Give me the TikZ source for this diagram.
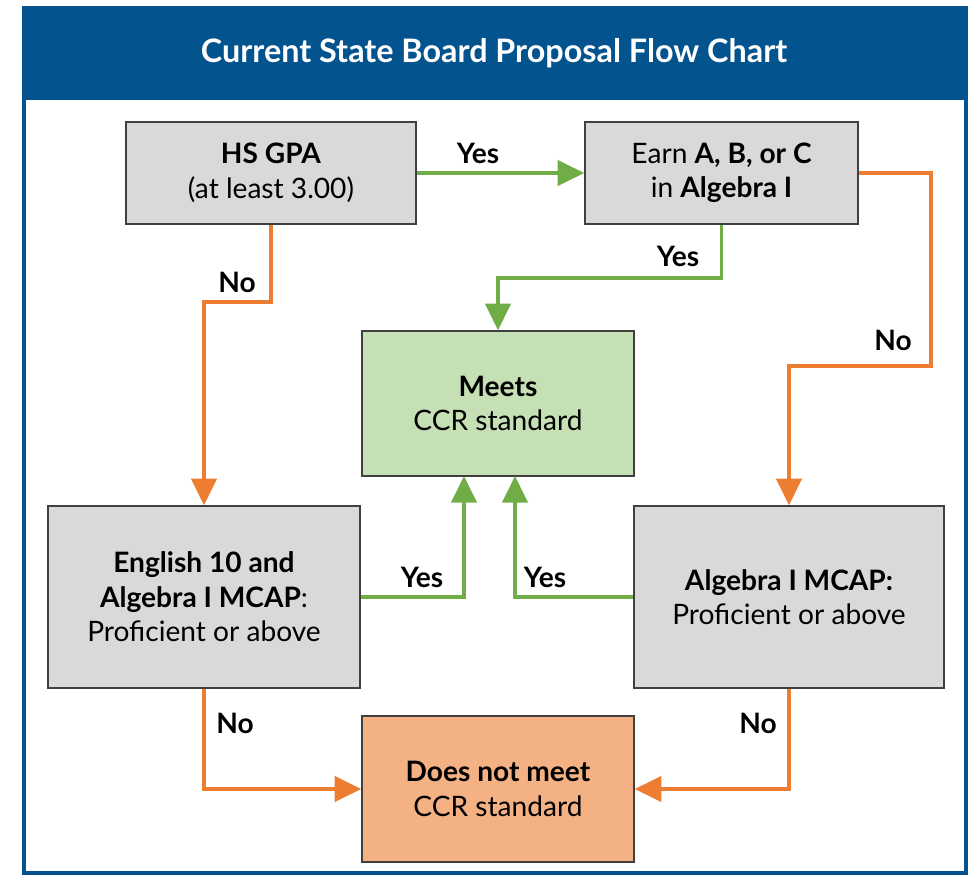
\documentclass[tikz,border=0pt]{standalone}
\usepackage{fontspec}
\setmainfont{Lato}
\usepackage{tikz}
\usetikzlibrary{arrows.meta}

\definecolor{frameblue}{RGB}{3,83,143}
\definecolor{boxgray}{HTML}{D9D9D9}
\definecolor{boxline}{HTML}{404040}
\definecolor{meetgreen}{HTML}{C5E0B4}
\definecolor{failorange}{HTML}{F4B183}
\definecolor{yesgreen}{HTML}{70AD47}
\definecolor{noorange}{HTML}{ED7D31}

\newcommand\bodysize{\fontsize{20}{24.5}\selectfont}
\newcommand\titlesize{\fontsize{23}{27}\selectfont}

\begin{document}
\begin{tikzpicture}[x=0.025cm, y=-0.025cm, inner sep=0pt,
    box/.style={rectangle, draw=boxline, line width=1pt, fill=boxgray, align=center, font=\bodysize},
    yes/.style={draw=yesgreen, line width=2.4pt, -{Triangle[length=19pt,width=18pt]}},
    no/.style={draw=noorange, line width=2.4pt, -{Triangle[length=19pt,width=18pt]}},
    lbl/.style={font=\bodysize\bfseries}]

\useasboundingbox (0,0) rectangle (975,880);

% frame and title band
\fill [frameblue] (22,6) rectangle (968,100);
\draw [frameblue, line width=3pt] (24,8) rectangle (966,873);
\node [text=white, font=\titlesize\bfseries] (title) at (494,53) {Current State Board Proposal Flow Chart};

% boxes
\node [box, minimum width=7.25cm, minimum height=2.55cm] (gpa) at (271,173) {\textbf{HS GPA}\\(at least 3.00)};
\node [box, minimum width=6.825cm, minimum height=2.55cm] (earn) at (721.5,173) {Earn \textbf{A, B, or C}\\in \textbf{Algebra I}};
\node [box, fill=meetgreen, minimum width=6.8cm, minimum height=3.625cm] (meets) at (498,403.5) {\textbf{Meets}\\CCR standard};
\node [box, minimum width=7.8cm, minimum height=4.55cm] (eng) at (204,597) {\textbf{English 10 and}\\\textbf{Algebra I MCAP}:\\Proficient or above};
\node [box, minimum width=7.75cm, minimum height=4.55cm] (alg) at (789,597) {\textbf{Algebra I MCAP:}\\Proficient or above};
\node [box, fill=failorange, minimum width=6.8cm, minimum height=3.65cm] (dnm) at (498,789) {\textbf{Does not meet}\\CCR standard};

% bend points
\coordinate (yb) at (600,278);
\coordinate (nb) at (931,366);
\coordinate (gb) at (271,302);
\coordinate (ein) at (464,476);
\coordinate (ain) at (515,476);

% connectors
\draw [yes] (gpa.east) -- (earn.west);
\draw [yes] (earn.south) |- (yb) -| (meets.north);
\draw [no] (earn.east) -| (nb) -| (alg.north);
\draw [no] (gpa.south) -- (gb) -| (eng.north);
\draw [yes] (eng.east) -| (ein);
\draw [yes] (alg.west) -| (ain);
\draw [no] (eng.south) |- (dnm.west);
\draw [no] (alg.south) |- (dnm.east);

% labels
\node [lbl] (yes_1) at (478,153) {Yes};
\node [lbl] (yes_2) at (678,256) {Yes};
\node [lbl] (no_1) at (893,340) {No};
\node [lbl] (no_2) at (237,282) {No};
\node [lbl] (yes_3) at (422,577) {Yes};
\node [lbl] (yes_4) at (545,577) {Yes};
\node [lbl] (no_3) at (235,723) {No};
\node [lbl] (no_4) at (758,723) {No};

\end{tikzpicture}
\end{document}
